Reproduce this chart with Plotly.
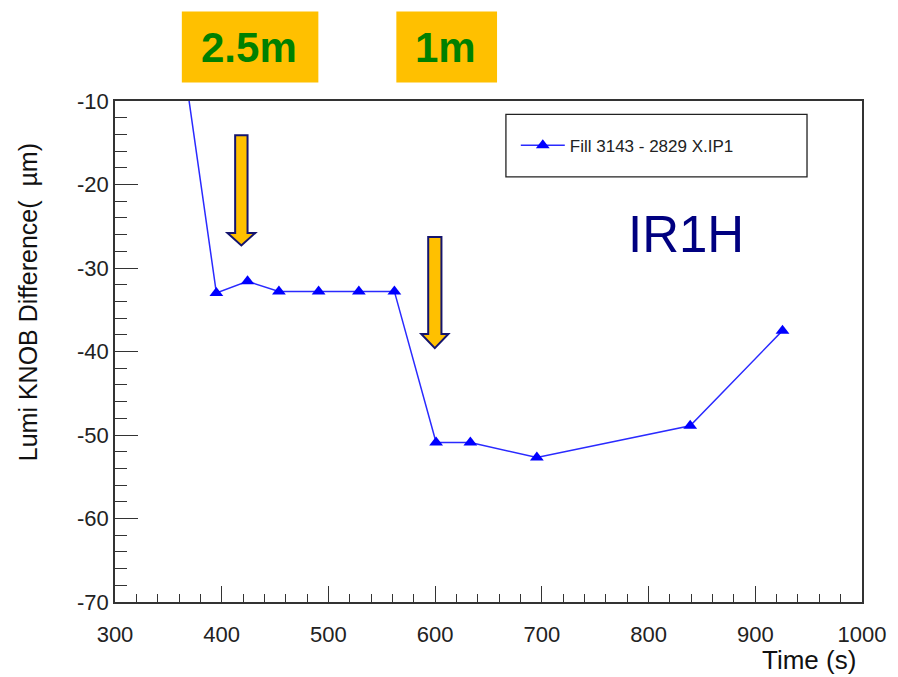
import plotly.graph_objects as go

# Lumi KNOB scan, Fill 3143 vs 2829, IP1 horizontal plane
time_s = [365, 395.0, 424.2, 453.6, 490.8, 528.5, 561.8, 600.9, 633.0, 695.3, 839.0, 925.5]
knob_diff_um = [-6.0, -33.0, -31.6, -32.8, -32.8, -32.8, -32.8, -50.9, -50.9, -52.7, -48.9, -37.5]
series_name = "Fill 3143 - 2829 X.IP1"

# axis ticks (plain hyphen minus signs on the labels)
x_ticks = [300, 400, 500, 600, 700, 800, 900, 1000]
x_ticklabels = ["300", "400", "500", "600", "700", "800", "900", "1000"]
y_ticks = [-70, -60, -50, -40, -30, -20, -10]
y_ticklabels = ["-70", "-60", "-50", "-40", "-30", "-20", "-10"]

# step labels and the times of the knob steps they refer to
step_labels = ["2.5m", "1m"]
step_times = [418.4, 599.7]

x_range = [300, 1000]
y_range = [-70, -10]

FONT = "Liberation Sans, Arial, Helvetica, sans-serif"
AXIS_COLOR = "#333333"
ORANGE = "#FFC000"
NAVY = "#000080"

# plot-area geometry in pixels
W, H = 898, 677
L, R, T, B = 115, 26.3, 100.7, 74.7
pw, ph = W - L - R, H - T - B


def px_x(p):
    return (p - L) / pw


def px_y(p):
    return 1 - (p - T) / ph


fig = go.Figure()
fig.add_trace(go.Scatter(
    x=time_s, y=knob_diff_um, mode="lines+markers", name=series_name,
    line=dict(color="#2a2aff", width=1.5),
    marker=dict(symbol="triangle-up", size=12, color="#0000ff"),
))

shapes = []

# legend frame
shapes.append(dict(type="rect", xref="paper", yref="paper",
                   x0=px_x(511), x1=px_x(816), y0=px_y(176.7), y1=px_y(114),
                   line=dict(color="#222222", width=1.3), fillcolor="rgba(0,0,0,0)"))

# down arrows marking the knob steps (data coordinates)
arrow_geom = [
    # shaft half width, head half width, top, head start, tip
    (5.8, 13.0, -14.1, -25.8, -27.3),
    (6.2, 12.7, -26.3, -37.9, -39.6),
]
for t, (sw, hw, top, hs, tip) in zip(step_times, arrow_geom):
    path = (f"M {t - sw},{top} L {t + sw},{top} L {t + sw},{hs} L {t + hw},{hs} "
            f"L {t},{tip} L {t - hw},{hs} L {t - sw},{hs} Z")
    shapes.append(dict(type="path", xref="x", yref="y", path=path,
                       fillcolor=ORANGE, line=dict(color="#14146e", width=2)))

# orange label boxes above the plot
box_px = [(182.7, 321.0), (400.0, 502.0)]
for x0, x1 in box_px:
    shapes.append(dict(type="rect", xref="paper", yref="paper",
                       x0=px_x(x0), x1=px_x(x1), y0=px_y(82.3), y1=px_y(11),
                       fillcolor=ORANGE, line=dict(width=0), layer="above"))

annotations = []
text_centers = [250.8, 450.0]
for label, cx in zip(step_labels, text_centers):
    annotations.append(dict(text=f"<b>{label}</b>", xref="paper", yref="paper",
                            x=px_x(cx), y=px_y(47.5), showarrow=False,
                            xanchor="center", yanchor="middle",
                            font=dict(family=FONT, size=42, color="#008000")))

annotations.append(dict(text="IR1H", xref="paper", yref="paper",
                        x=px_x(693), y=px_y(234.5), showarrow=False,
                        xanchor="center", yanchor="middle",
                        font=dict(family=FONT, size=51, color=NAVY)))

annotations.append(dict(text="Time (s)", xref="paper", yref="paper",
                        x=px_x(867.5), y=px_y(660.5), showarrow=False,
                        xanchor="right", yanchor="middle",
                        font=dict(family=FONT, size=26, color="#111111")))

annotations.append(dict(text="Lumi KNOB Difference(\u00a0 µm)", xref="paper", yref="paper",
                        x=px_x(27), y=px_y(302), showarrow=False, textangle=-90,
                        xanchor="center", yanchor="middle",
                        font=dict(family=FONT, size=25, color="#111111")))

fig.update_layout(
    width=W, height=H,
    margin=dict(l=L, r=R, t=T, b=B, pad=0),
    paper_bgcolor="white", plot_bgcolor="white",
    font=dict(family=FONT, color="#222222"),
    shapes=shapes, annotations=annotations,
    showlegend=True,
    legend=dict(x=px_x(521), y=px_y(145.5), xanchor="left", yanchor="middle",
                itemwidth=44,
                bgcolor="rgba(0,0,0,0)", borderwidth=0,
                font=dict(family=FONT, size=17, color="#222222")),
)

fig.update_xaxes(
    range=x_range, tickmode="array", tickvals=x_ticks, ticktext=x_ticklabels,
    showgrid=False, zeroline=False,
    showline=True, mirror=True, linecolor=AXIS_COLOR, linewidth=1.5,
    ticks="inside", ticklen=16, tickwidth=1.3, tickcolor=AXIS_COLOR,
    ticklabelstandoff=12,
    minor=dict(ticks="inside", dtick=20, tick0=0, ticklen=8, tickwidth=1.3, tickcolor=AXIS_COLOR),
    tickfont=dict(family=FONT, size=22, color="#222222"),
)
fig.update_yaxes(
    range=y_range, tickmode="array", tickvals=y_ticks, ticktext=y_ticklabels,
    showgrid=False, zeroline=False,
    showline=True, mirror=True, linecolor=AXIS_COLOR, linewidth=1.5,
    ticks="inside", ticklen=23, tickwidth=1.3, tickcolor=AXIS_COLOR,
    minor=dict(ticks="inside", dtick=2, tick0=0, ticklen=12, tickwidth=1.3, tickcolor=AXIS_COLOR),
    tickfont=dict(family=FONT, size=22, color="#222222"),
)

fig.write_html("out.html")
